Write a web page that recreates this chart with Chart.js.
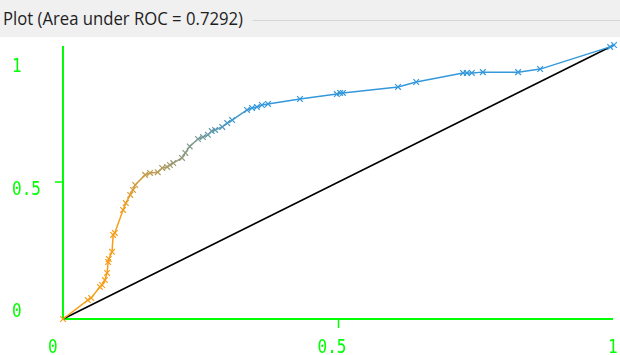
<!DOCTYPE html>
<html>
<head>
<meta charset="utf-8">
<script src="https://cdn.jsdelivr.net/npm/chart.js@4/dist/chart.umd.min.js"></script>
<style>
  html, body { margin: 0; padding: 0; background: #ffffff; }
  #wrap { position: relative; width: 620px; height: 355px; overflow: hidden; }
  #bar { position: absolute; left: 0; top: 0; width: 620px; height: 37px; background: #f0f0f0; }
  #title { position: absolute; left: 3px; top: 5px; font-family: "Open Sans", "Noto Sans", sans-serif; font-size: 18px; color: #1e1e1e; white-space: nowrap; transform-origin: 0 0; line-height: 26px; }
  #rule { position: absolute; top: 20px; height: 1px; right: 0; background: #d6d6d6; }
  canvas { position: absolute; left: 0; top: 0; }
</style>
</head>
<body>
<div id="wrap">
  <div id="bar"><span id="title">Plot (Area under ROC = 0.7292)</span><div id="rule"></div></div>
  <canvas id="c" width="620" height="355"></canvas>
</div>
<script>
// ---- data ----
const titleText = "Plot (Area under ROC = 0.7292)";
const fpr = [0, 0.045, 0.051, 0.067, 0.071, 0.076, 0.080, 0.082, 0.083, 0.089, 0.091, 0.094, 0.109, 0.114, 0.122, 0.127, 0.131, 0.149, 0.158, 0.172, 0.180, 0.189, 0.194, 0.200, 0.216, 0.222, 0.230, 0.245, 0.254, 0.263, 0.270, 0.276, 0.289, 0.298, 0.307, 0.334, 0.343, 0.352, 0.361, 0.372, 0.430, 0.497, 0.503, 0.508, 0.608, 0.641, 0.726, 0.733, 0.742, 0.762, 0.826, 0.866, 0.993, 1];
const tpr = [0, 0.069, 0.077, 0.117, 0.124, 0.142, 0.168, 0.208, 0.219, 0.245, 0.307, 0.314, 0.398, 0.423, 0.453, 0.471, 0.489, 0.526, 0.533, 0.536, 0.551, 0.555, 0.562, 0.569, 0.588, 0.606, 0.630, 0.657, 0.664, 0.672, 0.686, 0.690, 0.701, 0.715, 0.726, 0.763, 0.770, 0.774, 0.781, 0.785, 0.803, 0.821, 0.825, 0.825, 0.847, 0.865, 0.898, 0.898, 0.898, 0.901, 0.901, 0.912, 0.993, 1];
const diagX = [0, 1];
const diagY = [0, 1];
const xTickValues = [0, 0.5, 1];
const xTickLabels = ["0", "0.5", "1"];
const yTickValues = [0, 0.5, 1];
const yTickLabels = ["0", "0.5", "1"];

// ---- title sizing ----
(function () {
  const t = document.getElementById('title');
  const w = t.getBoundingClientRect().width;
  const k = 240 / w;
  t.style.transform = 'scaleX(' + k + ')';
  document.getElementById('rule').style.left = (3 + 240 + 10) + 'px';
})();

// ---- colours ----
const orange = [245, 158, 25], blue = [52, 152, 219];
function mix(i) {
  const f = Math.max(0, Math.min(1, (i - 11) / 25));
  const c = orange.map((o, j) => Math.round(o + (blue[j] - o) * f));
  return 'rgb(' + c.join(',') + ')';
}
const rocPoints = fpr.map((x, i) => ({ x: x, y: tpr[i] }));
const pointColors = fpr.map((_, i) => mix(i));

const GREEN = '#00ff00';

const axesPlugin = {
  id: 'wekaAxes',
  beforeDatasetsDraw(chart) {
    const ctx = chart.ctx;
    const xs = chart.scales.x, ys = chart.scales.y;
    const x0 = xs.getPixelForValue(0), x1 = xs.getPixelForValue(1);
    const y0 = ys.getPixelForValue(0), y1 = ys.getPixelForValue(1);
    ctx.save();
    ctx.strokeStyle = GREEN;
    ctx.lineWidth = 2;
    ctx.beginPath();
    ctx.moveTo(x0, y1 + 1); ctx.lineTo(x0, y0);
    ctx.lineTo(x1 - 1, y0);
    ctx.stroke();
    // ticks at 0.5
    ctx.lineWidth = 1.5;
    const xm = xs.getPixelForValue(0.5), ym = ys.getPixelForValue(0.5);
    ctx.beginPath();
    ctx.moveTo(xm, y0); ctx.lineTo(xm, y0 + 9);
    ctx.moveTo(x0 - 8, ym); ctx.lineTo(x0, ym);
    ctx.stroke();
    // labels
    ctx.fillStyle = GREEN;
    ctx.font = '20px "DejaVu Sans Mono", monospace';
    ctx.textBaseline = 'alphabetic';
    ctx.textAlign = 'left';
    const sx = 0.8;
    const xOff = [-15, -21, -6];
    xTickValues.forEach((v, i) => {
      const px = xs.getPixelForValue(v) + xOff[i];
      ctx.save(); ctx.translate(px, 353); ctx.scale(sx, 1);
      ctx.fillText(xTickLabels[i], 0, 0); ctx.restore();
    });
    const yOff = [-2, 13, 27];
    yTickValues.forEach((v, i) => {
      const py = ys.getPixelForValue(v) + yOff[i];
      ctx.save(); ctx.translate(12, py); ctx.scale(sx, 1);
      ctx.fillText(yTickLabels[i], 0, 0); ctx.restore();
    });
    ctx.restore();
  }
};

new Chart(document.getElementById('c'), {
  type: 'scatter',
  data: {
    datasets: [
      {
        label: 'diagonal',
        data: diagX.map((x, i) => ({ x: x, y: diagY[i] })),
        showLine: true,
        borderColor: '#000000',
        borderWidth: 1.6,
        pointRadius: 0,
        clip: false,
        order: 2
      },
      {
        label: 'ROC',
        data: rocPoints,
        showLine: true,
        borderWidth: 1.5,
        borderColor: pointColors[0],
        segment: { borderColor: c => pointColors[c.p0DataIndex] },
        pointStyle: 'crossRot',
        pointRadius: 4,
        pointBorderWidth: 1.2,
        pointBorderColor: pointColors,
        pointBackgroundColor: pointColors,
        clip: false,
        order: 1
      }
    ]
  },
  options: {
    responsive: false,
    animation: false,
    devicePixelRatio: 1,
    layout: { padding: { left: 63, right: 6, top: 45, bottom: 36 } },
    plugins: { legend: { display: false }, tooltip: { enabled: false } },
    scales: {
      x: { type: 'linear', min: 0, max: 1, display: false },
      y: { type: 'linear', min: 0, max: 1, display: false }
    }
  },
  plugins: [axesPlugin]
});
</script>
</body>
</html>
